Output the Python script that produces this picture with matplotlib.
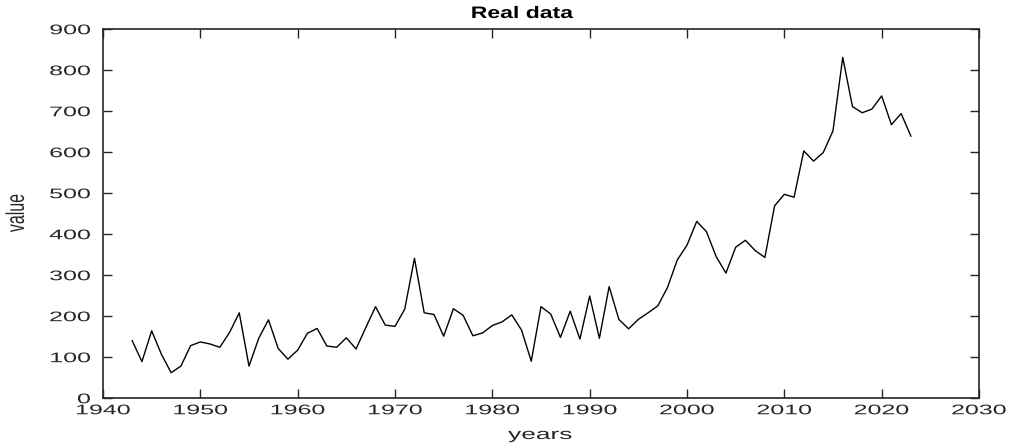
import numpy as np
import matplotlib
matplotlib.use("Agg")
import matplotlib.pyplot as plt
from matplotlib import patheffects
from matplotlib.transforms import Affine2D

# yearly values, 1943-2023
years = np.arange(1943, 2024)
values = [139, 88, 163, 106, 61, 77, 127, 136, 131, 123,
          159, 207, 77, 145, 190, 120, 94, 116, 157, 169,
          126, 123, 146, 119, 171, 222, 177, 174, 216, 340,
          207, 203, 150, 217, 201, 151, 158, 176, 185, 202,
          165, 89, 222, 204, 147, 211, 143, 248, 145, 271,
          191, 168, 191, 207, 224, 269, 336, 372, 430, 405,
          344, 304, 367, 384, 359, 342, 468, 496, 489, 602,
          577, 598, 651, 830, 710, 695, 704, 736, 666, 693,
          638]

xticks = np.arange(1940, 2031, 10)
yticks = np.arange(0, 901, 100)


class StretchX(patheffects.AbstractPathEffect):
    """Widen text horizontally around its centre or right edge."""
    def __init__(self, sx, anchor="center"):
        super().__init__()
        self.sx = sx
        self.anchor = anchor

    def draw_path(self, renderer, gc, tpath, affine, rgbFace=None):
        ext = tpath.get_extents(affine)
        cx = ext.x1 if self.anchor == "right" else (ext.x0 + ext.x1) / 2
        aff = affine + Affine2D().translate(-cx, 0).scale(self.sx, 1).translate(cx, 0)
        renderer.draw_path(gc, tpath, aff, rgbFace)


W, H = 1011, 446
fig = plt.figure(figsize=(W / 100, H / 100), dpi=100)
ax = fig.add_axes([103 / W, 1 - 397.7 / H, (979 - 103) / W, (397.7 - 28.7) / H])

ax.plot(years, values, color="black", lw=1.0)

ax.set_xlim(1940, 2030)
ax.set_ylim(0, 900)
ax.set_xticks(xticks)
ax.set_yticks(yticks)

for sp in ax.spines.values():
    sp.set_linewidth(1.2)
    sp.set_color("#262626")
ax.tick_params(direction="in", length=6.5, width=1.0, color="#262626",
               top=True, right=True, labelsize=10, labelcolor="#262626")
ax.tick_params(axis="x", pad=4)
ax.tick_params(axis="y", pad=9)

font = "Liberation Sans"
for lab in ax.get_xticklabels():
    lab.set_family(font)
    lab.set_path_effects([StretchX(1.8)])
for lab in ax.get_yticklabels():
    lab.set_family(font)
    lab.set_path_effects([StretchX(1.8, "right")])

fig.text(522 / W, 1 - 18 / H, "Real data", ha="center", va="baseline",
         fontsize=12, fontweight="bold", family=font, color="black",
         path_effects=[StretchX(1.38)])
fig.text(540 / W, 1 - 439 / H, "years", ha="center", va="baseline",
         fontsize=11, family=font, color="#262626",
         path_effects=[StretchX(1.72)])
fig.text(16 / W, 1 - 213 / H, "value", ha="center", va="center", rotation=90,
         fontsize=11.5, family=font, color="#262626",
         path_effects=[StretchX(1.6)])

fig.savefig("out.png", dpi=100)
